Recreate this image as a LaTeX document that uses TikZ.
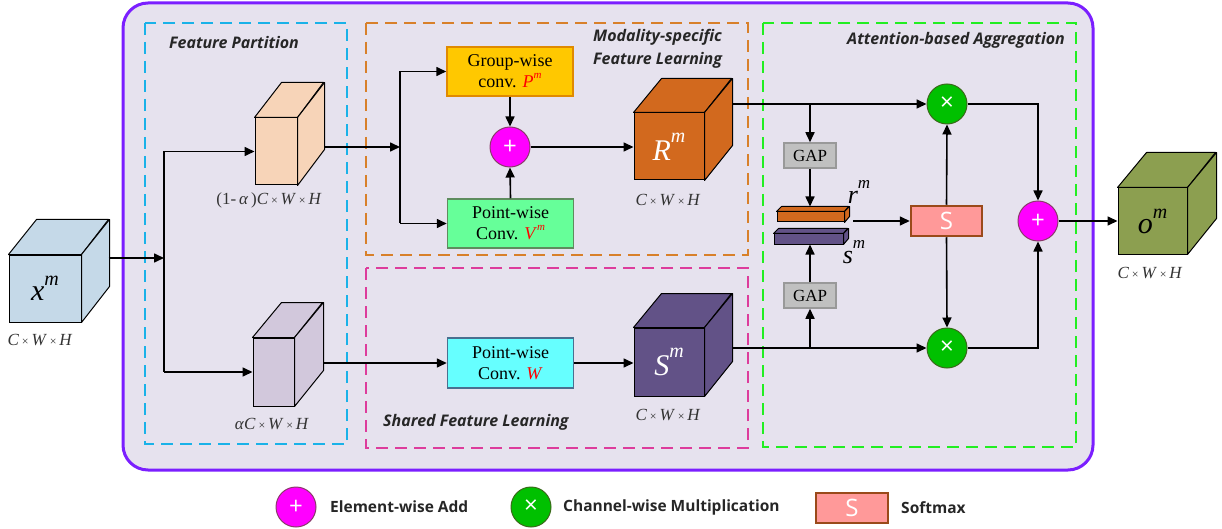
\documentclass[tikz,border=0pt]{standalone}
\usepackage{fontspec}
\setmainfont{Liberation Serif}
\newfontfamily\titlefont{Open Sans}
\usetikzlibrary{arrows.meta,calc}
\definecolor{purpleB}{HTML}{7B1FFF}
\definecolor{bgL}{HTML}{E6E2EE}
\definecolor{cyanD}{HTML}{1AB2E8}
\definecolor{orangeD}{HTML}{D8802A}
\definecolor{magD}{HTML}{DD3C9C}
\definecolor{greenD}{HTML}{22EE22}
\definecolor{xmC}{HTML}{C5D9E8}
\definecolor{peachC}{HTML}{F7D4B8}
\definecolor{lavC}{HTML}{D2C8DC}
\definecolor{rmC}{HTML}{D2691E}
\definecolor{smC}{HTML}{625287}
\definecolor{omC}{HTML}{8C9F50}
\definecolor{yelF}{HTML}{FFC800}
\definecolor{yelD}{HTML}{E08A00}
\definecolor{grnF}{HTML}{66FF99}
\definecolor{grnD}{HTML}{5E8C5E}
\definecolor{cyF}{HTML}{66FFFF}
\definecolor{cyD}{HTML}{4A7090}
\definecolor{magF}{HTML}{FF00FF}
\definecolor{magB}{HTML}{8B3A6B}
\definecolor{mulF}{HTML}{00C000}
\definecolor{mulB}{HTML}{3A6A1A}
\definecolor{gapF}{HTML}{C0C0C0}
\definecolor{gapD}{HTML}{999999}
\definecolor{smF}{HTML}{FF9999}
\definecolor{smD}{HTML}{9A4A1A}
\definecolor{txtG}{HTML}{333333}
\newcommand\mycube[9]{%
  \node[draw=black, fill=#8, minimum width=#4, minimum height=#5, inner sep=0pt, line width=1pt] (#1) at (#2,#3) {#9};
  \filldraw[fill=#8, draw=black, line width=1pt, line join=round] (#1.north west) -- ++(#6,-#7) -- ++(#4,0) -- (#1.north east) -- cycle;
  \filldraw[fill=#8, draw=black, line width=1pt, line join=round] (#1.north east) -- ++(#6,-#7) -- ++(0,#5) -- (#1.south east) -- cycle;
}
\newcommand\supm[3]{\textit{#1}\raisebox{#2}{\fontsize{#3}{#3}\selectfont\textit{m}}}
\newcommand\cwh{\textit{C}\,{\fontsize{12}{12}\selectfont ×}\,\textit{W}\,{\fontsize{12}{12}\selectfont ×}\,\textit{H}}
\tikzset{
  dashbox/.style={line width=1.6pt, dash pattern=on 12pt off 7pt},
  line/.style={line width=1.6pt, black},
  arr/.style={line width=1.6pt, black, -{Triangle[length=10pt,width=9pt]}},
  opbox/.style={draw, line width=1.5pt, minimum width=126, minimum height=49, inner sep=0pt, align=center, font=\fontsize{18}{21}\selectfont},
  addc/.style={circle, draw=magB, fill=magF, line width=1pt, minimum size=40, inner sep=0pt, text=white, font=\titlefont\fontsize{24}{24}\selectfont},
  mulc/.style={circle, draw=mulB, fill=mulF, line width=1pt, minimum size=40, inner sep=0pt, text=white, font=\titlefont\fontsize{24}{24}\selectfont},
  gapbox/.style={draw=gapD, fill=gapF, line width=1.5pt, minimum width=52, minimum height=25, inner sep=0pt, font=\fontsize{17}{17}\selectfont},
  smaxbox/.style={draw=smD, fill=smF, line width=2.5pt, minimum width=71, minimum height=30, inner sep=0pt, text=white, font=\titlefont\fontsize{24}{24}\selectfont},
  title/.style={font=\titlefont\bfseries\itshape\fontsize{16}{19}\selectfont, text=black!85, inner sep=0pt},
  legtxt/.style={font=\titlefont\bfseries\fontsize{15.5}{18}\selectfont, text=black!85, inner sep=0pt, anchor=west},
  dimlbl/.style={font=\fontsize{17}{17}\selectfont, text=txtG, inner sep=0pt},
}
\begin{document}
\begin{tikzpicture}[x=1pt,y=-1pt]
\useasboundingbox (0,0) rectangle (1222,529);
% outer frame
\draw[purpleB, line width=3pt, rounded corners=25pt, fill=bgL] (123,3) rectangle (1093,470);
% dashed regions
\draw[cyanD, dashbox] (145,23) rectangle (347,444);
\draw[orangeD, dashbox] (366,23) rectangle (748,255);
\draw[magD, dashbox] (366,268) rectangle (748,448);
\draw[greenD, dashbox] (763,23) rectangle (1076,447);
% titles
\node[title] (tfp) at (234,43) {Feature Partition};
\node[title, anchor=west] (tms1) at (593,37) {Modality-specific};
\node[title, anchor=west] (tms2) at (593,60) {Feature Learning};
\node[title, anchor=east] (taa) at (1065,40) {Attention-based Aggregation};
\node[title, anchor=west] (tsf) at (383,422) {Shared Feature Learning};
% cubes
\mycube{xm}{45}{288.5}{72}{67}{28}{35}{xmC}{{\fontsize{30}{30}\selectfont\supm{x}{0.5em}{20}}}
\mycube{pc}{276}{151.5}{42}{67}{27}{35}{peachC}{}
\mycube{lav}{273.5}{372}{41}{68}{29}{35}{lavC}{}
\mycube{rm}{669}{146.5}{70}{67}{28}{34}{rmC}{\color{white}\fontsize{30}{30}\selectfont\supm{R}{0.6em}{20}}
\mycube{sm}{669}{362}{70}{68}{28}{34}{smC}{\color{white}\fontsize{30}{30}\selectfont\supm{S}{0.6em}{20}}
\mycube{om}{1152.5}{221}{69}{66}{29}{35}{omC}{\fontsize{30}{30}\selectfont\supm{o}{0.5em}{20}}
% dimension labels
\node[dimlbl] (dxm) at (40,340) {\cwh};
\node[dimlbl] (dpc) at (269,200) {(1-\,\textit{α}\,)\cwh};
\node[dimlbl] (dlav) at (272,424) {\textit{α}\cwh};
\node[dimlbl] (drm) at (668,200) {\cwh};
\node[dimlbl] (dsm) at (668,415) {\cwh};
\node[dimlbl] (dom) at (1150,273) {\cwh};
% operation boxes
\node[opbox, draw=yelD, fill=yelF] (gw) at (510,71.5) {Group-wise\\conv. \textcolor{red}{\supm{P}{0.5em}{11}}};
\node[opbox, draw=grnD, fill=grnF] (pv) at (510.5,223.5) {Point-wise\\Conv. \textcolor{red}{\supm{V}{0.5em}{11}}};
\node[opbox, draw=cyD, fill=cyF, minimum height=50] (pw) at (510.5,363) {Point-wise\\Conv. \textcolor{red}{\textit{W}}};
\node[addc] (add1) at (510,147) {+};
\node[mulc] (mul1) at (947,104) {×};
\node[mulc] (mul2) at (947,348) {×};
\node[addc] (add2) at (1038,221) {+};
\node[gapbox] (gap1) at (810,155.5) {GAP};
\node[gapbox] (gap2) at (810,295.5) {GAP};
\node[smaxbox] (smax) at (946.5,221) {S};
% pooled vectors
\node[draw=black, fill=rmC, minimum width=67, minimum height=10, inner sep=0pt, line width=1pt] (rb) at (810.5,217) {};
\filldraw[fill=rmC, draw=black, line width=1pt, line join=round] (rb.north west) -- ++(5,-5) -- ++(67,0) -- (rb.north east) -- cycle;
\filldraw[fill=rmC, draw=black, line width=1pt, line join=round] (rb.north east) -- ++(5,-5) -- ++(0,10) -- (rb.south east) -- cycle;
\node[draw=black, fill=smC, minimum width=69, minimum height=10, inner sep=0pt, line width=1pt] (sb) at (808.5,239) {};
\filldraw[fill=smC, draw=black, line width=1pt, line join=round] (sb.north west) -- ++(5,-5) -- ++(69,0) -- (sb.north east) -- cycle;
\filldraw[fill=smC, draw=black, line width=1pt, line join=round] (sb.north east) -- ++(5,-5) -- ++(0,10) -- (sb.south east) -- cycle;
\node[inner sep=0pt, font=\fontsize{26}{26}\selectfont] (rlbl) at (859,192) {\supm{r}{0.55em}{17}};
\node[inner sep=0pt, font=\fontsize{26}{26}\selectfont] (slbl) at (854,252) {\supm{s}{0.55em}{17}};
% connectors
\coordinate (j1) at (164,258);
\coordinate (j2) at (400,147);
\coordinate (j3) at (810,104);
\coordinate (j4) at (810,348);
\coordinate (j5) at (853,221);
\draw[arr] ([xshift=27pt,yshift=30.5pt]xm.east) -- (j1);
\draw[line] (j1 |- pc.west) -- (j1 |- lav.west);
\draw[arr] (j1 |- pc.west) -- (pc.west);
\draw[arr] (j1 |- lav.west) -- (lav.west);
\draw[arr] ([xshift=27pt,yshift=4.5pt]pc.east) -- (j2);
\draw[line] (j2 |- gw.west) -- (j2 |- pv.west);
\draw[arr] (j2 |- gw.west) -- (gw.west);
\draw[arr] (j2 |- pv.west) -- (pv.west);
\draw[arr] (gw.south) -- (add1.north);
\draw[arr] (pv.north) -- (add1.south);
\draw[arr] (add1.east) -- (add1.east -| rm.west);
\draw[arr] ([xshift=29pt,yshift=9pt]lav.east) -- (pw.west);
\draw[arr] (pw.east) -- (pw.east -| sm.west);
\draw[arr] ([xshift=28pt,yshift=42.5pt]rm.east) -- (mul1.west);
\draw[arr] (j3) -- (gap1.north);
\draw[arr] (gap1.south) -- ([yshift=5pt]rb.north -| gap1.south);
\draw[arr] ([xshift=28pt,yshift=14pt]sm.east) -- (mul2.west);
\draw[arr] (j4) -- (gap2.south);
\draw[arr] (gap2.north) -- (sb.south -| gap2.north);
\draw[arr] (j5) -- (smax.west);
\draw[arr] (smax.north) -- (mul1.south);
\draw[arr] (smax.south) -- (mul2.north);
\draw[arr] (mul1.east) -| (add2.north);
\draw[arr] (mul2.east) -| (add2.south);
\draw[arr] (add2.east) -- (om.west);
% legend
\node[addc] (leg1) at (296,507) {+};
\node[legtxt] (leg1t) at (330,507) {Element-wise Add};
\node[mulc] (leg2) at (531,507) {×};
\node[legtxt] (leg2t) at (563,507) {Channel-wise Multiplication};
\node[smaxbox, minimum width=72] (leg3) at (852,508) {S};
\node[legtxt] (leg3t) at (901,508) {Softmax};
\end{tikzpicture}
\end{document}
